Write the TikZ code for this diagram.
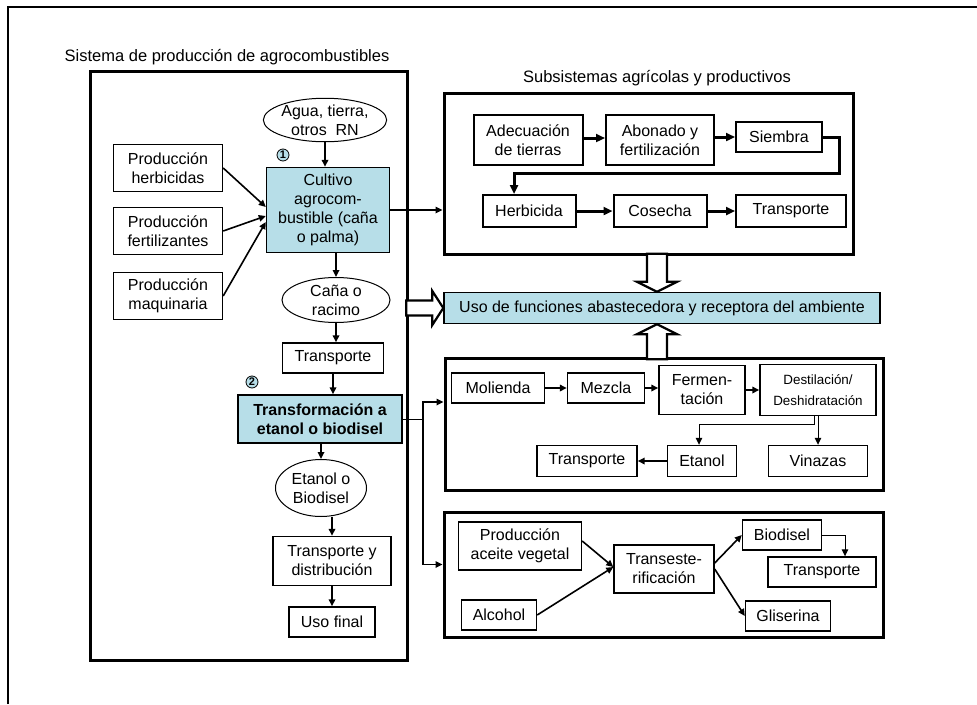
\documentclass[tikz,border=0pt]{standalone}
\usepackage{fontspec}
\setmainfont{Liberation Sans}
\usetikzlibrary{arrows.meta,calc,shapes.geometric}
\definecolor{envteal}{HTML}{B7DEE8}

\begin{document}
\begin{tikzpicture}[
    x=1pt, y=-1pt,
    >={Triangle[length=7pt,width=6.5pt]},
    sysbox/.style={draw, line width=3pt, inner sep=0pt},
    stepbox/.style={draw, line width=1.4pt, inner sep=2pt, align=center,
                    font=\fontsize{16}{19}\selectfont},
    keybox/.style={stepbox, fill=envteal},
    resell/.style={draw, ellipse, line width=1pt, inner sep=0pt, align=center,
                   font=\fontsize{16}{19}\selectfont},
    numcirc/.style={draw, circle, fill=envteal, line width=0.8pt, inner sep=0pt,
                    minimum size=12pt, font=\bfseries\fontsize{11}{11}\selectfont},
    title/.style={font=\fontsize{16.5}{19}\selectfont},
    flow/.style={->, line width=1.6pt},
    thickflow/.style={-{Triangle[length=9pt,width=8pt]}, line width=3pt},
    thinflow/.style={->, line width=1pt},
    hollow/.style={draw, line width=2.2pt, fill=white, line join=miter},
]
\useasboundingbox (0,0) rectangle (977,704);
% outer frame
\draw[line width=2pt] (8,704) -- (8,7) -- (977,7);

% ---- Titles and system boxes ----
\node[title] (systitle) at (227,57) {Sistema de producción de agrocombustibles};
\node[title] (subtitle) at (657,78) {Subsistemas agrícolas y productivos};
\node[sysbox, minimum width=317pt, minimum height=589pt] (sysL) at (248.5,365.5) {};
\node[sysbox, minimum width=409pt, minimum height=161pt] (subag) at (648.5,173.5) {};
\node[sysbox, minimum width=438pt, minimum height=132pt] (ethbox) at (664,424) {};
\node[sysbox, minimum width=439pt, minimum height=125pt] (biobox) at (663.5,574.5) {};

% ---- LEFT: production chain ----
\node[resell, minimum width=116pt, minimum height=40pt] (agua) at (325,120) {Agua, tierra,\\otros\ \ RN};
\node[numcirc] (n1) at (283,155) {1};
\node[keybox, minimum width=123pt, minimum height=85pt] (cultivo) at (328,210) {Cultivo\\agrocom-\\bustible (caña\\o palma)};
\node[stepbox, minimum width=109pt, minimum height=47pt] (herb) at (168,168) {Producción\\herbicidas};
\node[stepbox, minimum width=109pt, minimum height=47pt] (fert) at (168,231) {Producción\\fertilizantes};
\node[stepbox, minimum width=109pt, minimum height=47pt] (maq)  at (168,296) {Producción\\maquinaria};
\node[resell, minimum width=108pt, minimum height=45pt] (cana) at (336,300) {Caña o\\racimo};
\node[stepbox, minimum width=101pt, minimum height=30pt] (transL) at (333,358) {Transporte};
\node[numcirc] (n2) at (252,382) {2};
\node[keybox, minimum width=164pt, minimum height=48pt, font=\bfseries\fontsize{16}{19}\selectfont] (transf) at (320,419) {Transformación a\\etanol o biodisel};
\node[resell, minimum width=91pt, minimum height=57pt] (etbio) at (321,488) {Etanol o\\Biodisel};
\node[stepbox, minimum width=118pt, minimum height=49pt] (tydist) at (332,561) {Transporte y\\distribución};
\node[stepbox, minimum width=86pt, minimum height=30pt] (usofinal) at (332,622) {Uso final};

\draw[flow] (agua.south) -- (agua.south |- cultivo.north);
\draw[flow] (herb.east) -- ([yshift=3pt]cultivo.west);
\draw[flow] (fert.east) -- ([yshift=-6pt]cultivo.west);
\draw[flow] (maq.east)  -- ([yshift=-12pt]cultivo.west);
\draw[flow] (cana.north |- cultivo.south) -- (cana.north);
\draw[flow] (cana.south) -- (cana.south |- transL.north);
\draw[flow] (transL.south) -- (transL.south |- transf.north);
\draw[flow] (etbio.north |- transf.south) -- (etbio.north);
\draw[flow] (tydist.north |- etbio.south) -- (tydist.north);
\draw[flow] (tydist.south) -- (usofinal.north);

% ---- Environment functions ----
\node[keybox, minimum width=436pt, minimum height=31pt] (uso) at (662,308) {Uso de funciones abastecedora y receptora del ambiente};

% ---- Agricultural subsystems ----
\node[stepbox, line width=2pt, minimum width=109pt, minimum height=50pt] (adec) at (528,140) {Adecuación\\de tierras};
\node[stepbox, line width=2pt, minimum width=108pt, minimum height=50pt] (abon) at (660,140) {Abonado y\\fertilización};
\node[stepbox, line width=2pt, minimum width=86pt, minimum height=30pt] (siem) at (779,137) {Siembra};
\node[stepbox, line width=2pt, minimum width=93pt, minimum height=32pt] (herbi) at (529,211) {Herbicida};
\node[stepbox, line width=2pt, minimum width=93pt, minimum height=32pt] (cose) at (660,211) {Cosecha};
\node[stepbox, line width=2pt, minimum width=110pt, minimum height=32pt] (transA) at (791,211) {Transporte};

\draw[thickflow] ([yshift=2pt]adec.east) -- ([yshift=2pt]abon.west);
\draw[thickflow] (siem.west -| abon.east) -- (siem.west);
\draw[thickflow] (siem.east) -- ++(16,0) |- ([xshift=-15pt,yshift=21pt]herbi.north) -- ([xshift=-15pt]herbi.north);
\draw[thickflow] (herbi.east) -- (cose.west);
\draw[thickflow] (cose.east) -- (transA.west);
\draw[flow] (cultivo.east) -- (cultivo.east -| subag.west);

% ---- Ethanol chain ----
\node[stepbox, minimum width=93pt, minimum height=30pt] (mol) at (498,388) {Molienda};
\node[stepbox, minimum width=77pt, minimum height=30pt] (mez) at (606,388) {Mezcla};
\node[stepbox, minimum width=86pt, minimum height=49pt] (ferm) at (702,390) {Fermen-\\tación};
\node[stepbox, minimum width=116pt, minimum height=51pt, font=\fontsize{13.4}{21}\selectfont] (dest) at (818,390) {Destilación/\\Deshidratación};
\node[stepbox, minimum width=69pt, minimum height=31pt] (eta) at (702,461) {Etanol};
\node[stepbox, minimum width=99pt, minimum height=31pt] (vin) at (818,461) {Vinazas};
\node[stepbox, minimum width=100pt, minimum height=31pt] (transE) at (587,461) {Transporte};

\draw[flow] (mol.east) -- (mez.west);
\draw[flow] (mez.east) -- (mez.east -| ferm.west);
\draw[flow] (ferm.east) -- (dest.west);
\draw[thinflow] (vin.north |- dest.south) -- (vin.north);
\draw[thinflow] ([xshift=-4pt]dest.south) -- ++(0,8) -| ([xshift=-3pt]eta.north);
\draw[flow] (eta.west) -- (transE.east);

% ---- Biodiesel chain ----
\node[stepbox, minimum width=123pt, minimum height=48pt] (aceite) at (520,546) {Producción\\aceite vegetal};
\node[stepbox, minimum width=75pt, minimum height=30pt] (alc) at (499,615) {Alcohol};
\node[stepbox, minimum width=100pt, minimum height=48pt] (trans) at (664,569) {Transeste-\\rificación};
\node[stepbox, minimum width=79pt, minimum height=30pt] (biod) at (782,535) {Biodisel};
\node[stepbox, minimum width=108pt, minimum height=30pt] (transB) at (822,572) {Transporte};
\node[stepbox, minimum width=85pt, minimum height=30pt] (glis) at (788,616) {Gliserina};

\draw[flow] ([yshift=5pt]aceite.east) -- ([yshift=2pt]trans.west);
\draw[flow] (alc.east) -- ([yshift=2pt]trans.west);
\draw[flow] ([yshift=6pt]trans.east) -- (biod.west);
\draw[flow] (trans.east) -- (glis.west);
\draw[thinflow] (biod.east) -| ([xshift=23pt]transB.north);

% ---- Transformation to the two chains ----
\coordinate (split) at ($(transf.east)+(20,0)$);
\draw[line width=0.8pt] (transf.east) -- (split);
\draw[flow] (split) |- ([yshift=22pt]ethbox.west);
\draw[flow] (split) |- ([yshift=10pt]biobox.west);

% ---- Hollow arrows into the environment box ----
\draw[hollow] ([xshift=-5pt]uso.north) -- ++(-20,-10) -- ++(10,0) -- ++(0,-28) -- ++(20,0) -- ++(0,28) -- ++(10,0) -- cycle;
\draw[hollow] ([xshift=-5pt]uso.south) -- ++(-20,10) -- ++(10,0) -- ++(0,25) -- ++(20,0) -- ++(0,-25) -- ++(10,0) -- cycle;
\draw[hollow] (uso.west) -- ++(-11,-17) -- ++(0,9.5) -- ++(-26,0) -- ++(0,15) -- ++(26,0) -- ++(0,9.5) -- cycle;
\end{tikzpicture}
\end{document}
